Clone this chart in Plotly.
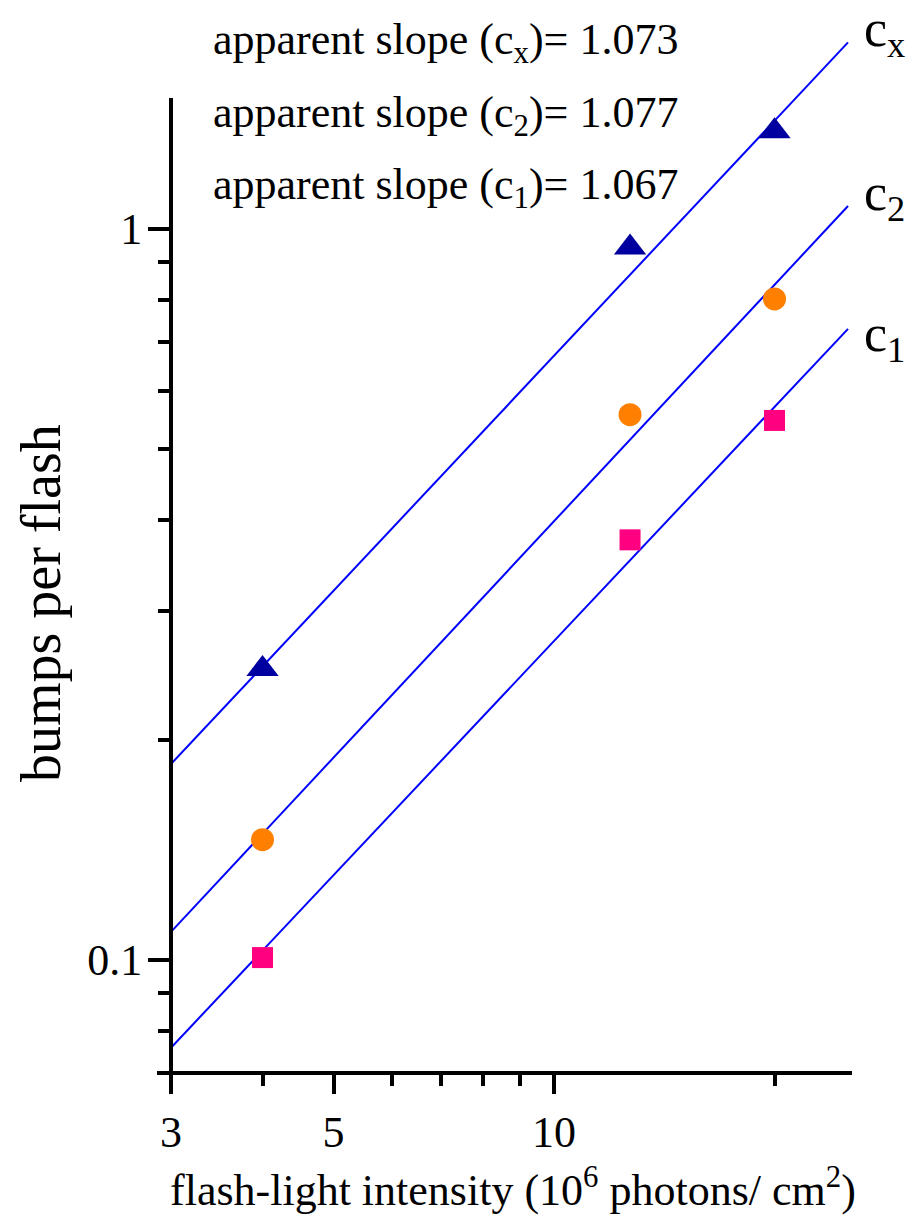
import plotly.graph_objects as go
import math

# ---------------- data ----------------
intensity = [4, 12.7, 20]
cx_vals = [0.25, 0.943, 1.36]
c2_vals = [0.146, 0.557, 0.802]
c1_vals = [0.1007, 0.3755, 0.547]

fit_x = [3, 25.2]
cx_fit = [0.1853, 1.80]
c2_fit = [0.1092, 1.075]
c1_fit = [0.0758, 0.730]

slope_labels = ["apparent slope (c<sub>x</sub>)= 1.073",
                "apparent slope (c<sub>2</sub>)= 1.077",
                "apparent slope (c<sub>1</sub>)= 1.067"]
curve_labels = ["c<sub>x</sub>", "c<sub>2</sub>", "c<sub>1</sub>"]

x_major = [3, 5, 10]
x_minor = [4, 6, 7, 8, 9, 20]
y_major = [0.1, 1]
y_minor = [0.08, 0.09, 0.2, 0.3, 0.4, 0.5, 0.6, 0.7, 0.8, 0.9]

FONT = "Liberation Serif, Times New Roman, serif"
W, H = 917, 1219
L, R, T, B = 171, 68, 30, 146
PW, PH = W - L - R, H - T - B

def px(x):
    return (x - L) / PW

def py(y):
    return (H - B - y) / PH

fig = go.Figure()
line_style = dict(color="#0000FF", width=2)
for fy in (cx_fit, c2_fit, c1_fit):
    fig.add_trace(go.Scatter(x=fit_x, y=fy, mode="lines", line=line_style,
                             showlegend=False, hoverinfo="skip"))

fig.add_trace(go.Scatter(x=intensity, y=cx_vals, mode="markers",
                         marker=dict(symbol="triangle-up", size=28, color="#0000A0"),
                         showlegend=False))
fig.add_trace(go.Scatter(x=intensity, y=c2_vals, mode="markers",
                         marker=dict(symbol="circle", size=23, color="#FF8000"),
                         showlegend=False))
fig.add_trace(go.Scatter(x=intensity, y=c1_vals, mode="markers",
                         marker=dict(symbol="square", size=21, color="#FF0080"),
                         showlegend=False))

tickfont = dict(family=FONT, size=44, color="black")
fig.update_xaxes(type="log", range=[math.log10(3), math.log10(3) + PW / 732.5],
                 showline=False, showgrid=False, zeroline=False,
                 tickmode="array", tickvals=x_major, ticktext=[str(v) for v in x_major],
                 ticks="outside", ticklen=20, tickwidth=3.5, tickcolor="black",
                 tickfont=tickfont, ticklabelstandoff=0,
                 minor=dict(tickmode="array", tickvals=x_minor, ticks="outside",
                            ticklen=12, tickwidth=3.5, tickcolor="black", showgrid=False))
fig.update_yaxes(type="log", range=[math.log10(0.07), (229 - 30) / 731],
                 showline=False, showgrid=False, zeroline=False,
                 tickmode="array", tickvals=y_major, ticktext=["0.1", "1"],
                 ticks="outside", ticklen=22, tickwidth=3.5, tickcolor="black",
                 tickfont=tickfont, ticklabelstandoff=-3,
                 minor=dict(tickmode="array", tickvals=y_minor, ticks="outside",
                            ticklen=12, tickwidth=3.5, tickcolor="black", showgrid=False))

# axis lines
fig.add_shape(type="line", xref="paper", yref="paper", x0=0, x1=0,
              y0=py(1093), y1=py(98), line=dict(color="black", width=4))
fig.add_shape(type="line", xref="paper", yref="paper", x0=px(157), x1=px(852),
              y0=0, y1=0, line=dict(color="black", width=4))

annfont = dict(family=FONT, size=44, color="black")
for i, txt in enumerate(slope_labels):
    fig.add_annotation(text=txt, xref="paper", yref="paper", x=px(211), y=py(43 + 72 * i),
                       xanchor="left", yanchor="middle", showarrow=False, font=annfont)

for txt, yy in zip(curve_labels, [32, 197, 337]):
    fig.add_annotation(text=txt, xref="paper", yref="paper", x=px(862), y=py(yy),
                       xanchor="left", yanchor="middle", showarrow=False,
                       font=dict(family=FONT, size=52, color="black"))

fig.add_annotation(text="flash-light intensity (10<sup>6</sup> photons/ cm<sup>2</sup>)",
                   xref="paper", yref="paper", x=px(513), y=py(1188),
                   xanchor="center", yanchor="middle", showarrow=False, font=annfont)
fig.add_annotation(text="bumps per flash", textangle=-90,
                   xref="paper", yref="paper", x=px(41), y=py(603),
                   xanchor="center", yanchor="middle", showarrow=False,
                   font=dict(family=FONT, size=56, color="black"))

fig.update_layout(width=W, height=H, margin=dict(l=L, r=R, t=T, b=B),
                  plot_bgcolor="white", paper_bgcolor="white",
                  font=dict(family=FONT, color="black"))

fig.write_html("out.html")
